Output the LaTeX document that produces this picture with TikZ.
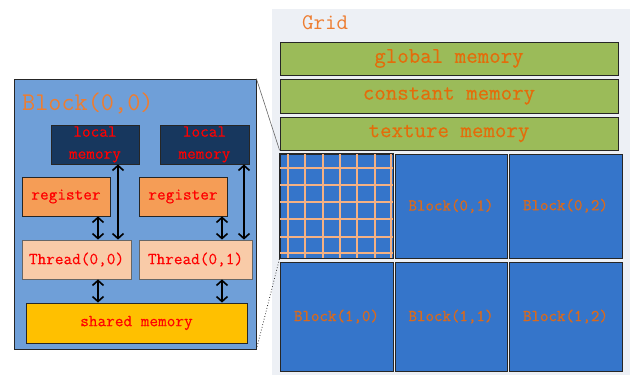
\documentclass[tikz,border=0pt]{standalone}
\usepackage{fontspec}
\setmainfont{Latin Modern Mono}[BoldFont=Latin Modern Mono, BoldFeatures={FakeBold=0.8}]
\newfontfamily\semib{Latin Modern Mono}[FakeBold=0.3]
\usetikzlibrary{arrows.meta}
\definecolor{blkfill}{HTML}{6F9FD8}
\definecolor{locfill}{HTML}{17375E}
\definecolor{regfill}{HTML}{F59D56}
\definecolor{thrfill}{HTML}{F9CBA8}
\definecolor{shfill}{HTML}{FFC000}
\definecolor{gridbg}{HTML}{EDF0F5}
\definecolor{grn}{HTML}{9BBB59}
\definecolor{orgtxt}{HTML}{E46C0A}
\definecolor{lbl}{HTML}{ED7D31}
\definecolor{cellfill}{HTML}{3575CA}
\definecolor{celltxt}{HTML}{D86A1E}
\definecolor{gline}{HTML}{F4B183}
\tikzset{
  box/.style={draw=black!85, line width=0.8pt, inner sep=0pt, anchor=center},
  smalltxt/.style={font=\semib\fontsize{16.8}{22}\selectfont, text=red},
  bigtxt/.style={font=\semib\fontsize{22.3}{24}\selectfont, text=orgtxt},
  celltext/.style={font=\fontsize{16.5}{18}\selectfont\bfseries, text=celltxt},
  arr/.style={line width=1.6pt, {Straight Barb[length=5pt,width=11pt]}-{Straight Barb[length=5pt,width=11pt]}},
}
\begin{document}
\begin{tikzpicture}[x=1pt,y=-1pt]
\useasboundingbox (0,0) rectangle (633,376);
% left block
\node[box, fill=blkfill, minimum width=242pt, minimum height=270pt] (blk) at (135,214) {};
\node[anchor=west, font=\fontsize{25.5}{27}\selectfont, text=lbl, inner sep=0pt] (blabel) at (22,103) {Block(0,0)};
\node[box, fill=locfill, minimum width=88pt, minimum height=39pt, smalltxt, align=center] (loc1) at (95,144.5) {local\\memory};
\node[box, fill=locfill, minimum width=89pt, minimum height=39pt, smalltxt, align=center] (loc2) at (204.5,144.5) {local\\memory};
\node[box, fill=regfill, minimum width=88pt, minimum height=39pt, smalltxt] (reg1) at (66,196.5) {register};
\node[box, fill=regfill, minimum width=88pt, minimum height=39pt, smalltxt] (reg2) at (183,196.5) {register};
\node[box, fill=thrfill, draw=black!60, minimum width=109pt, minimum height=39pt, smalltxt] (thr1) at (76.5,259.5) {Thread(0,0)};
\node[box, fill=thrfill, draw=black!60, minimum width=113pt, minimum height=39pt, smalltxt] (thr2) at (195.5,259.5) {Thread(0,1)};
\node[box, fill=shfill, minimum width=221pt, minimum height=40pt, smalltxt] (sh) at (136.5,323) {shared memory};
\coordinate (xa) at (98,0);
\coordinate (xb) at (118,0);
\coordinate (xc) at (222,0);
\coordinate (xd) at (244,0);
\draw[arr] (reg1.south -| xa) -- (thr1.north -| xa);
\draw[arr] (loc1.south -| xb) -- (thr1.north -| xb);
\draw[arr] (reg2.south -| xc) -- (thr2.north -| xc);
\draw[arr] (loc2.south -| xd) -- (thr2.north -| xd);
\draw[arr] (thr1.south -| xa) -- (sh.north -| xa);
\draw[arr] (thr2.south -| xc) -- (sh.north -| xc);
% grid
\node[fill=gridbg, minimum width=358pt, minimum height=366pt, inner sep=0pt] (gridbox) at (451,192) {};
\node[anchor=west, font=\fontsize{22.3}{24}\selectfont, text=lbl, inner sep=0pt] (glabel) at (302,23) {Grid};
\node[box, fill=grn, minimum width=338pt, minimum height=33pt, bigtxt] (glob) at (449,58.5) {global memory};
\node[box, fill=grn, minimum width=338pt, minimum height=34pt, bigtxt] (cons) at (449,96) {constant memory};
\node[box, fill=grn, minimum width=338pt, minimum height=33pt, bigtxt] (tex) at (449,133.5) {texture memory};
% cells
\node[box, fill=cellfill, minimum width=113pt, minimum height=104pt] (c00) at (336.5,206) {};
\begin{scope}
\clip (c00.south west) rectangle (c00.north east);
\foreach \gx in {288,305.3,322.6,339.9,357.2,374.5,391} {
  \draw[gline, line width=2pt] (\gx,154) -- (\gx,258);
}
\foreach \gy in {168.3,185,201.7,219,236.7,253} {
  \draw[gline, line width=2pt] (280,\gy) -- (393,\gy);
}
\end{scope}
\draw[black!85, line width=0.8pt] (c00.south west) rectangle (c00.north east);
\node[box, fill=cellfill, minimum width=112pt, minimum height=104pt, celltext] (c01) at (451,206) {Block(0,1)};
\node[box, fill=cellfill, minimum width=113pt, minimum height=104pt, celltext] (c02) at (565.5,206) {\raisebox{3pt}{Block(0,2)}};
\node[box, fill=cellfill, minimum width=113pt, minimum height=109pt, celltext] (c10) at (336.5,316.5) {Block(1,0)};
\node[box, fill=cellfill, minimum width=112pt, minimum height=109pt, celltext] (c11) at (451,316.5) {Block(1,1)};
\node[box, fill=cellfill, minimum width=113pt, minimum height=109pt, celltext] (c12) at (565.5,316.5) {Block(1,2)};
% zoom lines
\draw[black!60, line width=0.6pt] (blk.north east) -- (tex.south west);
\draw[black!80, line width=0.8pt, dotted] (blk.south east) -- (c00.south west);
\end{tikzpicture}
\end{document}
